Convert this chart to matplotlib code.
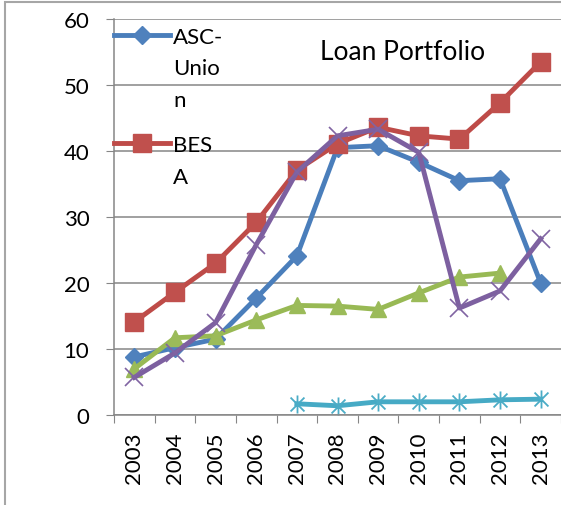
import numpy as np
import matplotlib
matplotlib.use('Agg')
import matplotlib.pyplot as plt
from matplotlib.path import Path
from matplotlib.patches import Rectangle

plt.rcParams['font.family'] = ['Lato', 'DejaVu Sans']

# values
years = ['2003', '2004', '2005', '2006', '2007', '2008', '2009', '2010', '2011', '2012', '2013']
asc_union = [8.8, 10.2, 11.5, 17.7, 24.1, 40.5, 40.8, 38.3, 35.5, 35.8, 20.0]
besa = [14.1, 18.6, 23.0, 29.2, 37.1, 41.1, 43.6, 42.3, 41.8, 47.3, 53.5]
series3 = [7.0, 11.7, 12.0, 14.4, 16.6, 16.5, 16.0, 18.5, 20.9, 21.5, np.nan]
series4 = [5.7, 9.4, 14.0, 25.8, 36.8, 42.3, 43.3, 39.8, 16.2, 18.8, 26.7]
series5 = [np.nan, np.nan, np.nan, np.nan, 1.7, 1.4, 2.0, 2.0, 2.0, 2.3, 2.4]
legend_labels = ['ASC-\nUnio\nn', 'BES\nA']
title = 'Loan Portfolio'

# excel style asterisk: an x plus a vertical bar
star = Path([(-1, -1), (1, 1), (-1, 1), (1, -1), (0, -1.3), (0, 1.3)],
            [Path.MOVETO, Path.LINETO] * 3)

fig = plt.figure(figsize=(5.61, 5.06), dpi=100)
ax = fig.add_axes([114 / 561, 1 - 416 / 506, 1 - 114 / 561, (416 - 20) / 506])

x = np.arange(len(years))
lw = 3.5
l1, = ax.plot(x, asc_union, color='#4A7EBB', lw=lw, marker='D', markersize=9.2,
              markerfacecolor='#4F81BD', markeredgecolor='#4F81BD')
l2, = ax.plot(x, besa, color='#BE4B48', lw=lw, marker='s', markersize=13,
              markerfacecolor='#C0504D', markeredgecolor='#C0504D')
ax.plot(x, series3, color='#98B954', lw=lw, marker='^', markersize=12,
        markerfacecolor='#9BBB59', markeredgecolor='#9BBB59')
ax.plot(x, series4, color='#7D60A0', lw=lw, marker='x', markersize=13,
        markeredgewidth=1.2, markeredgecolor='#8064A2')
ax.plot(x, series5, color='#46AAC5', lw=lw, marker=star, markersize=13,
        markeredgewidth=1.3, markerfacecolor='none', markeredgecolor='#4BACC6')

ax.set_xlim(-0.5, len(years) - 0.5)
ax.set_ylim(0, 60)
ax.set_yticks(np.arange(0, 61, 10))
ax.yaxis.grid(True, color='#868686', lw=1.1)
ax.set_axisbelow(True)

# tick marks between categories, labels at the centres
ax.set_xticks(np.arange(-0.5, len(years), 1))
ax.set_xticklabels([])
ax.set_xticks(x, minor=True)
ax.set_xticklabels(years, minor=True, rotation=90, fontsize=16)
ax.tick_params(axis='x', which='major', length=5.8, color='#868686', direction='out')
ax.tick_params(axis='x', which='minor', length=0, pad=12)
ax.tick_params(axis='y', length=5.8, color='#868686', pad=12, labelsize=16)

for s in ['top', 'right']:
    ax.spines[s].set_visible(False)
for s in ['left', 'bottom']:
    ax.spines[s].set_color('#868686')
    ax.spines[s].set_linewidth(1.1)

ax.text(403 / 561, 1 - 52 / 506, title, transform=fig.transFigure,
        ha='center', va='center', fontsize=19)

leg = ax.legend([l1, l2], legend_labels, loc='upper left', bbox_to_anchor=(0, 0.98),
                frameon=False, fontsize=16, borderpad=0, borderaxespad=0,
                handlelength=2.5, handletextpad=0.15, labelspacing=1.13, numpoints=1)
for t in leg.get_texts():
    t.set_linespacing(1.72)
# put the handle next to the first line of each wrapped label
for col in leg._legend_handle_box.get_children():
    for item in col.get_children():
        item.align = 'top'

# outer chart border, mostly cropped away
fig.patches.append(Rectangle((5 / 561, -0.1), 2, 1 - 3 / 506 + 0.1, transform=fig.transFigure,
                             fill=False, edgecolor='#a6a6a6', lw=1.5))

fig.savefig('out.png', dpi=100)
